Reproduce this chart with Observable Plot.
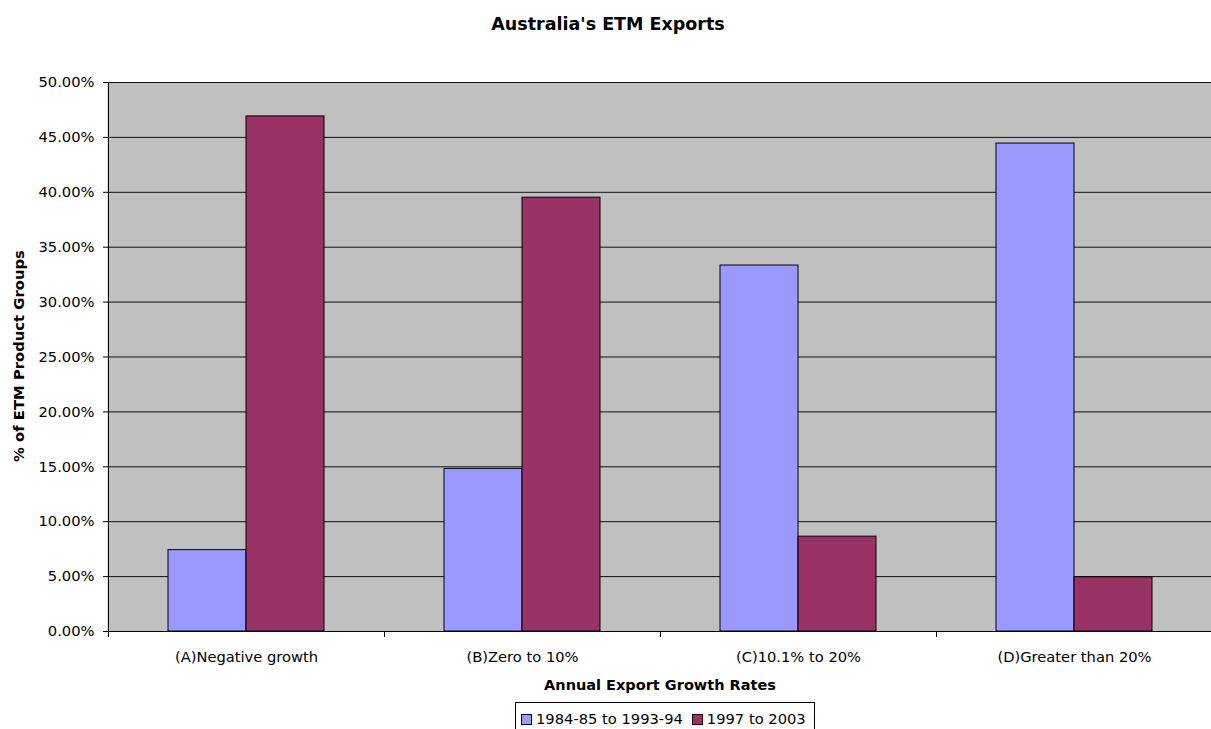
<!DOCTYPE html>
<html>
<head>
<meta charset="utf-8">
<script src="https://cdn.jsdelivr.net/npm/d3@7"></script>
<script src="https://cdn.jsdelivr.net/npm/@observablehq/plot@0.6"></script>
<style>
  html, body { margin: 0; padding: 0; background: #fff; overflow: hidden; }
  #wrap { position: relative; width: 1211px; height: 729px; font-family: "DejaVu Sans", sans-serif; color: #000; }
  #title { position: absolute; left: 608px; top: 16px; transform: translateX(-50%); font-size: 17.5px; font-weight: bold; line-height: 17px; white-space: nowrap; }
  #ylabel { position: absolute; left: 18px; top: 356px; transform: translate(-50%, -50%) rotate(-90deg); font-size: 14.8px; font-weight: bold; line-height: 15px; white-space: nowrap; }
  #xlabel { position: absolute; left: 660px; top: 678px; transform: translateX(-50%); font-size: 14.5px; font-weight: bold; line-height: 14.5px; white-space: nowrap; }
  #chart { position: absolute; left: 0; top: 0; }
  #legend { position: absolute; left: 515px; top: 702px; height: 30px; border: 1px solid #000; box-sizing: border-box; display: flex; align-items: flex-start; padding: 9px 8px 0 5px; font-size: 14.7px; line-height: 14px; white-space: nowrap; background: #fff; }
  .item { display: flex; align-items: center; margin-right: 9px; }
  .item:last-child { margin-right: 0; }
  .sw { width: 9px; height: 9px; border: 1px solid #000; margin-right: 4px; }
</style>
</head>
<body>
<div id="wrap">
  <div id="chart"></div>
  <div id="title"></div>
  <div id="ylabel"></div>
  <div id="xlabel"></div>
  <div id="legend"></div>
</div>
<script>
const titleText = "Australia's ETM Exports";
const yTitle = "% of ETM Product Groups";
const xTitle = "Annual Export Growth Rates";
const categories = ["(A)Negative growth", "(B)Zero to 10%", "(C)10.1% to 20%", "(D)Greater than 20%"];
const series = ["1984-85 to 1993-94", "1997 to 2003"];
const values1984 = [0.0741, 0.1481, 0.3333, 0.4444];
const values1997 = [0.4691, 0.3951, 0.0864, 0.0494];
const colors = ["#9999FF", "#993366"];
const yTicks = [0, 0.05, 0.10, 0.15, 0.20, 0.25, 0.30, 0.35, 0.40, 0.45, 0.50];

const data = [];
categories.forEach((c, i) => {
  data.push({category: c, series: series[0], value: values1984[i]});
  data.push({category: c, series: series[1], value: values1997[i]});
});

const chart = Plot.plot({
  width: 1211,
  height: 700,
  marginLeft: 107,
  marginRight: -2,
  marginTop: 82,
  marginBottom: 69,
  style: {fontFamily: "DejaVu Sans, sans-serif", fontSize: "14.7px", color: "#000", background: "transparent", overflow: "visible"},
  fx: {domain: categories, padding: 0, label: null},
  x: {domain: series, paddingInner: 0, paddingOuter: 0.75, axis: null},
  y: {domain: [0, 0.5], label: null},
  color: {domain: series, range: colors},
  marks: [
    Plot.frame({fill: "#C0C0C0", stroke: "none", insetLeft: -1, insetRight: -1}),
    Plot.ruleY(yTicks, {stroke: "#111", strokeWidth: 1}),
    Plot.barY(data, {fx: "category", x: "series", y: "value", fill: "series", stroke: "#000", strokeWidth: 1}),
    Plot.frame({anchor: "left", stroke: "#000", facetAnchor: "left"}),
    Plot.frame({anchor: "left", stroke: "#000", insetTop: 549, insetBottom: -5}),
    Plot.ruleY([0], {stroke: "#000"}),
    Plot.axisY({ticks: yTicks, tickFormat: d3.format(".2%"), tickSize: 5, tickPadding: 9, label: null, fontSize: 14.7}),
    Plot.axisFx({anchor: "bottom", tickSize: 0, tickPadding: 20, label: null, fontSize: 14.7})
  ]
});
chart.setAttribute("overflow", "hidden");
document.getElementById("chart").appendChild(chart);

document.getElementById("title").textContent = titleText;
document.getElementById("ylabel").textContent = yTitle;
document.getElementById("xlabel").textContent = xTitle;

const legend = document.getElementById("legend");
series.forEach((s, i) => {
  const item = document.createElement("div");
  item.className = "item";
  const sw = document.createElement("div");
  sw.className = "sw";
  sw.style.background = colors[i];
  const t = document.createElement("span");
  t.textContent = s;
  item.appendChild(sw);
  item.appendChild(t);
  legend.appendChild(item);
});
</script>
</body>
</html>
